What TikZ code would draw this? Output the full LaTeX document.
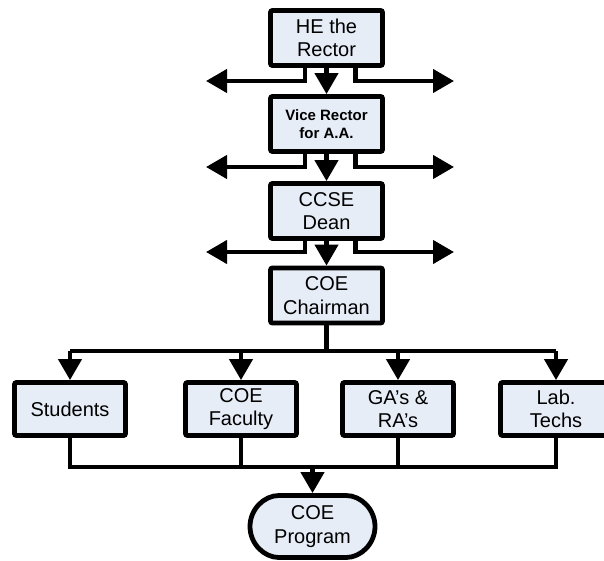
\documentclass[tikz,border=0pt]{standalone}
\usepackage{fontspec}
\setmainfont{Liberation Sans}
\usetikzlibrary{arrows.meta,shapes.misc}
\definecolor{boxfill}{RGB}{231,237,247}
\definecolor{ink}{RGB}{0,0,0}
\tikzset{
  unitbox/.style={draw=ink, line width=4.8pt, fill=boxfill, rounded corners=2pt,
    align=center, inner sep=0pt, text=ink,
    font=\fontsize{20}{23.5}\selectfont},
  topbox/.style={unitbox, minimum width=112pt, minimum height=55pt},
  lowbox/.style={unitbox, minimum width=111pt, minimum height=53pt},
  endbox/.style={unitbox, rounded rectangle, minimum width=125pt, minimum height=62pt},
  conn/.style={draw=ink, line width=4.3pt},
  arr/.style={conn, -{Triangle[width=23pt,length=21pt]}},
}
\begin{document}
\begin{tikzpicture}[x=1pt,y=-1pt]
\useasboundingbox (0,0) rectangle (604,561);

% chain of command
\node[topbox] (rector) at (326.5,38) {HE the\\Rector};
\node[topbox, font=\bfseries\fontsize{15}{17.5}\selectfont] (vice) at (326.5,124) {Vice Rector\\for A.A.};
\node[topbox] (dean) at (326.5,211) {CCSE\\Dean};
\node[topbox] (chair) at (326.5,295.5) {COE\\Chairman};

% department members
\node[lowbox] (stud) at (70,409) {Students};
\node[lowbox] (fac) at (241,409) {COE\\Faculty};
\node[lowbox] (ga) at (398,409) {GA's \&\\RA's};
\node[lowbox] (lab) at (556,409) {Lab.\\Techs};

% programme
\node[endbox] (prog) at (312.5,526.5) {COE\\Program};

% side branches under the upper boxes
\coordinate (r1l) at (206,81);  \coordinate (r1r) at (454,81);
\coordinate (r2l) at (206,167); \coordinate (r2r) at (454,167);
\coordinate (r3l) at (206,252); \coordinate (r3r) at (454,252);

\draw[arr] ([xshift=-21.5pt]rector.south) |- (r1l);
\draw[arr] ([xshift=29pt]rector.south) |- (r1r);
\draw[arr] (rector) -- (vice);

\draw[arr] ([xshift=-21.5pt]vice.south) |- (r2l);
\draw[arr] ([xshift=29pt]vice.south) |- (r2r);
\draw[arr] (vice) -- (dean);

\draw[arr] ([xshift=-21.5pt]dean.south) |- (r3l);
\draw[arr] ([xshift=29pt]dean.south) |- (r3r);
\draw[arr] (dean) -- (chair);

% distribution bus
\coordinate (bus) at (326.5,351);
\draw[conn] (chair.south) -- (bus);
\draw[conn] (70,351) -- (556,351);
\draw[arr] (stud.north |- bus) -- (stud.north);
\draw[arr] (fac.north |- bus) -- (fac.north);
\draw[arr] (ga.north |- bus) -- (ga.north);
\draw[arr] (lab.north |- bus) -- (lab.north);

% collection bus
\coordinate (col) at (312.5,467);
\draw[conn] (stud.south) |- (col) -| (lab.south);
\draw[conn] (fac.south) -- (fac.south |- col);
\draw[conn] (ga.south) -- (ga.south |- col);
\draw[arr] (col) -- (prog.north);
\end{tikzpicture}
\end{document}
